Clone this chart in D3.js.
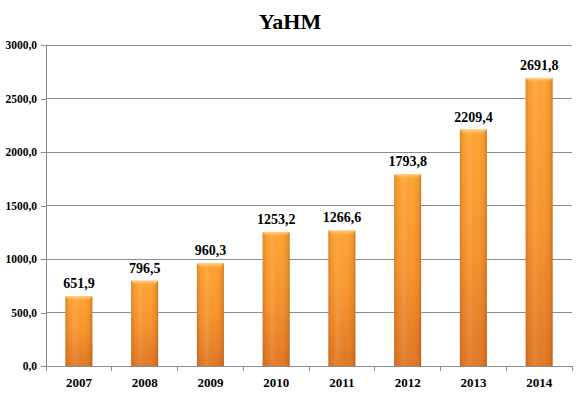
<!DOCTYPE html>
<html><head><meta charset="utf-8">
<script src="https://cdn.jsdelivr.net/npm/d3@7"></script>
<style>body{margin:0;background:#fff}svg{display:block}</style>
</head><body>
<script>
const categories = ["2007","2008","2009","2010","2011","2012","2013","2014"];
const values = [651.9, 796.5, 960.3, 1253.2, 1266.6, 1793.8, 2209.4, 2691.8];
const yTicks = [0, 500, 1000, 1500, 2000, 2500, 3000];
const title = "YaHM";

const W = 579, H = 394;
const m = {left: 46, right: 7, top: 45, bottom: 28};
const svg = d3.select("body").append("svg").attr("width", W).attr("height", H);
const fmt = v => d3.format(".1f")(v).replace(".", ",");
const FONT = "'Liberation Serif','Times New Roman',serif";

const x = d3.scaleBand().domain(categories).range([m.left, W - m.right]).paddingInner(0.59).paddingOuter(0.295);
const y = d3.scaleLinear().domain([0, 3000]).range([H - m.bottom, m.top]);

const defs = svg.append("defs");
// base vertical: bright top, darker bottom (per bar bounding box)
const gv = defs.append("linearGradient").attr("id", "gv").attr("x1", "0").attr("x2", "0").attr("y1", "0").attr("y2", "1");
[["0%", "#ffa534"], ["50%", "#f7952f"], ["100%", "#e27826"]]
  .forEach(([o, c]) => gv.append("stop").attr("offset", o).attr("stop-color", c));
// horizontal edge shading
const gh = defs.append("linearGradient").attr("id", "gh").attr("x1", "0").attr("x2", "1").attr("y1", "0").attr("y2", "0");
[["0%", "#8a3a00", 0.28], ["12%", "#8a3a00", 0.06], ["35%", "#ffffff", 0.08], ["70%", "#8a3a00", 0.0], ["90%", "#8a3a00", 0.12], ["100%", "#6a2a00", 0.35]]
  .forEach(([o, c, op]) => gh.append("stop").attr("offset", o).attr("stop-color", c).attr("stop-opacity", op));
// top highlight cap
const gt = defs.append("linearGradient").attr("id", "gt").attr("x1", "0").attr("x2", "0").attr("y1", "0").attr("y2", "1");
[["0%", "#ffd88e", 0.95], ["100%", "#ffb050", 0]]
  .forEach(([o, c, op]) => gt.append("stop").attr("offset", o).attr("stop-color", c).attr("stop-opacity", op));

// gridlines
svg.append("g").selectAll("line").data(yTicks.filter(d => d > 0)).join("line")
  .attr("x1", m.left).attr("x2", W - m.right)
  .attr("y1", d => y(d)).attr("y2", d => y(d))
  .attr("stroke", "#8c8c8c").attr("stroke-width", 1).attr("shape-rendering", "crispEdges");

// y axis
const ya = svg.append("g").attr("transform", `translate(${m.left},0)`)
  .call(d3.axisLeft(y).tickValues(yTicks).tickFormat(fmt).tickSize(5).tickPadding(4));
ya.select(".domain").attr("stroke", "#8c8c8c").attr("shape-rendering", "crispEdges");
ya.selectAll(".tick line").attr("stroke", "#8c8c8c").attr("shape-rendering", "crispEdges");
ya.attr("font-family", null);
ya.selectAll("text").style("font-family", FONT)
  .attr("font-size", 11.5).attr("font-weight", "bold").attr("fill", "#000");

// bars
const bars = svg.append("g").selectAll("g").data(values).join("g");
bars.append("rect").attr("x", (d, i) => x(categories[i])).attr("width", x.bandwidth())
  .attr("y", d => y(d)).attr("height", d => y(0) - y(d)).attr("fill", "url(#gv)");
bars.append("rect").attr("x", (d, i) => x(categories[i])).attr("width", x.bandwidth())
  .attr("y", d => y(d)).attr("height", d => y(0) - y(d)).attr("fill", "url(#gh)");
bars.append("path")
  .attr("d", (d, i) => {
    const x0 = x(categories[i]), w = x.bandwidth(), t = y(d);
    return `M${x0},${t}L${x0 + w},${t}L${x0 + w - 4},${t + 5}L${x0 + 4},${t + 5}Z`;
  })
  .attr("fill", "url(#gt)");

// x axis
const xa = svg.append("g").attr("transform", `translate(0,${y(0)})`)
  .call(d3.axisBottom(x).tickSize(0).tickPadding(12));
xa.select(".domain").attr("stroke", "#8c8c8c").attr("shape-rendering", "crispEdges");
xa.attr("font-family", null);
xa.selectAll("text").style("font-family", FONT)
  .attr("font-size", 13).attr("font-weight", "bold").attr("fill", "#000");
const step = x.step();
svg.append("g").selectAll("line").data(d3.range(categories.length + 1)).join("line")
  .attr("x1", i => m.left + i * step).attr("x2", i => m.left + i * step)
  .attr("y1", y(0)).attr("y2", y(0) + 5)
  .attr("stroke", "#8c8c8c").attr("shape-rendering", "crispEdges");

// value labels
svg.append("g").selectAll("text").data(values).join("text")
  .attr("x", (d, i) => x(categories[i]) + x.bandwidth() / 2)
  .attr("y", d => y(d) - 8)
  .attr("text-anchor", "middle")
  .style("font-family", FONT)
  .attr("font-size", 14).attr("font-weight", "bold").attr("fill", "#000")
  .text(fmt);

// title
svg.append("text").attr("x", 290).attr("y", 29).attr("text-anchor", "middle")
  .style("font-family", FONT)
  .attr("font-size", 22).attr("font-weight", "bold").attr("fill", "#000").text(title);
</script>
</body></html>
